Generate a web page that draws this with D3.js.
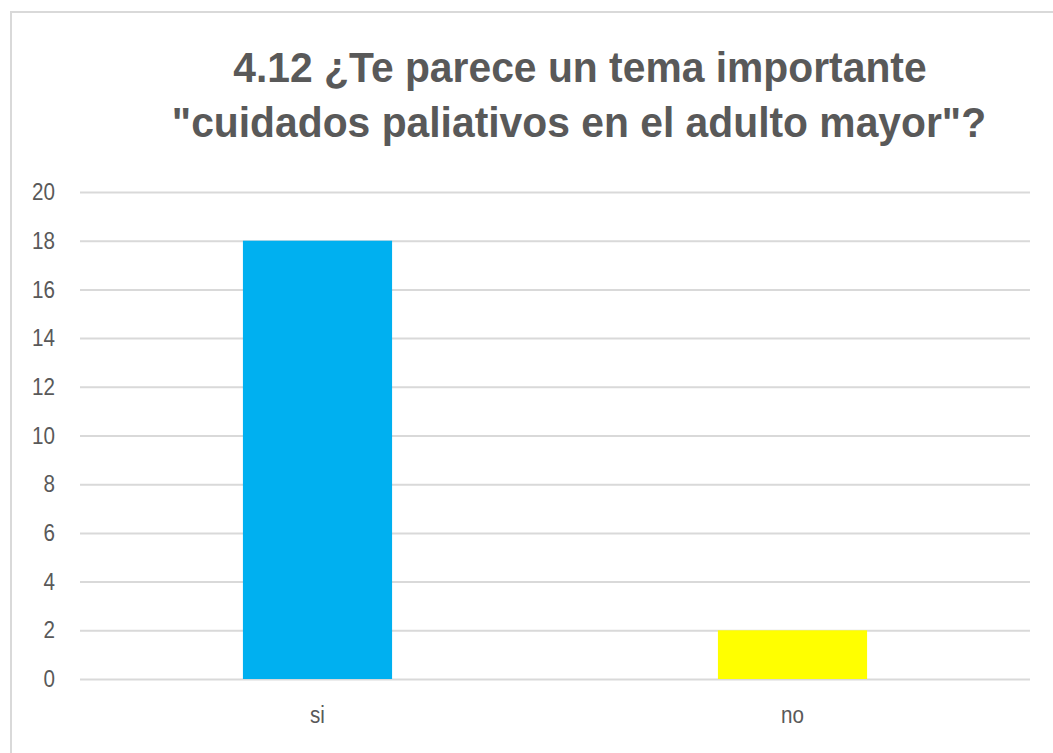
<!doctype html>
<html>
<head>
<meta charset="utf-8">
<style>
  body { margin: 0; background: white; }
  svg { display: block; }
  .grid line { stroke: #d9d9d9; stroke-width: 2; }
  .grid .domain { display: none; }
  .ylab text, .xlab text { fill: #595959; font-family: "Liberation Sans", sans-serif; font-size: 24px; }
  .title { fill: #595959; font-family: "Liberation Sans", sans-serif; font-weight: bold; font-size: 42px; }
</style>
<script src="https://d3js.org/d3.v7.min.js"></script>
</head>
<body>
<script>
  // data
  var categories = ["si", "no"];
  var counts = [18, 2];
  var barColors = ["#00b0f0", "#ffff00"];
  var yTicks = [0, 2, 4, 6, 8, 10, 12, 14, 16, 18, 20];
  var titleLines = ["4.12 ¿Te parece un tema importante", "\"cuidados paliativos en el adulto mayor\"?"];

  var W = 1053, H = 753;
  var plotLeft = 80, plotRight = 1030, plotTop = 192, plotBottom = 679;

  var svg = d3.select("body").append("svg")
    .attr("width", W)
    .attr("height", H);

  // chart frame (runs off right and bottom edges)
  svg.append("path")
    .attr("d", "M11,760 L11,12 L1060,12")
    .attr("fill", "none")
    .attr("stroke", "#d9d9d9")
    .attr("stroke-width", 2);

  // title, squeezed a little to match the narrow original
  var tg = svg.append("g").attr("transform", "translate(578,0) scale(0.972,1)");
  tg.append("text").attr("class", "title")
    .attr("x", 2).attr("y", 82)
    .attr("text-anchor", "middle")
    .text(titleLines[0]);
  tg.append("text").attr("class", "title")
    .attr("x", 1).attr("y", 137)
    .attr("text-anchor", "middle")
    .text(titleLines[1]);

  var y = d3.scaleLinear().domain([0, 20]).range([plotBottom, plotTop]);
  var x = d3.scaleBand().domain(categories).range([plotLeft, plotRight])
    .paddingInner(0.686).paddingOuter(0.343);

  // gridlines
  svg.append("g").attr("class", "grid")
    .attr("transform", "translate(" + plotLeft + ",0)")
    .call(d3.axisRight(y).tickValues(yTicks).tickSize(plotRight - plotLeft).tickFormat(""));

  // y labels (narrowed like the original font)
  var ya = svg.append("g").attr("class", "ylab")
    .attr("transform", "translate(" + plotLeft + ",0)")
    .call(d3.axisLeft(y).tickValues(yTicks).tickSize(0));
  ya.select(".domain").remove();
  ya.selectAll("text")
    .attr("x", 0)
    .attr("transform", "translate(-25,0) scale(0.86,1)");

  // bars
  svg.selectAll(".bar")
    .data(categories)
    .enter().append("rect")
    .attr("class", "bar")
    .attr("x", function(d) { return x(d); })
    .attr("width", x.bandwidth())
    .attr("y", function(d, i) { return y(counts[i]); })
    .attr("height", function(d, i) { return y(0) - y(counts[i]); })
    .attr("fill", function(d, i) { return barColors[i]; });

  // x labels
  var xa = svg.append("g").attr("class", "xlab")
    .attr("transform", "translate(0," + plotBottom + ")")
    .call(d3.axisBottom(x).tickSize(0).tickPadding(27));
  xa.select(".domain").remove();
  xa.selectAll("text").attr("transform", "scale(0.86,1)");
  xa.selectAll(".tick text").attr("transform", "scale(0.86,1)");
</script>
</body>
</html>
